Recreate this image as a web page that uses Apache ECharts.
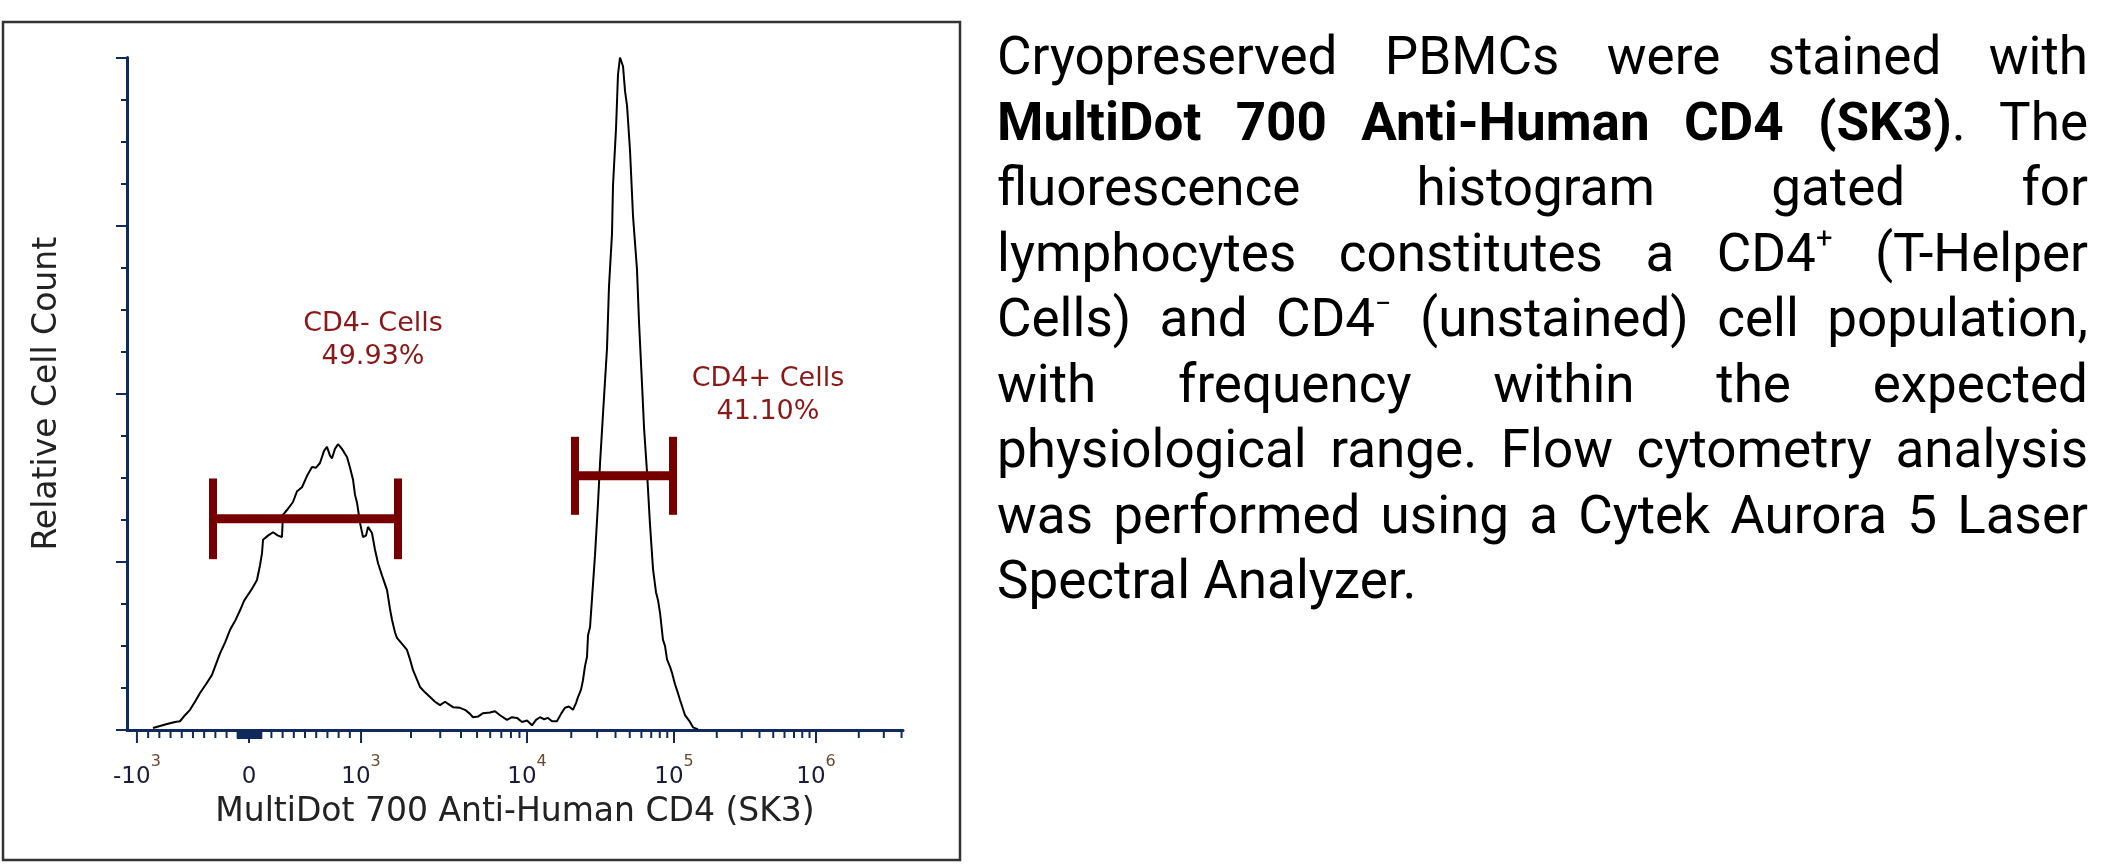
<!DOCTYPE html>
<html>
<head>
<meta charset="utf-8">
<title>CD4 histogram</title>
<script src="https://cdn.jsdelivr.net/npm/echarts@6/dist/echarts.min.js"></script>
<style>
  html, body { margin: 0; padding: 0; background: #fff; }
  #chart { position: absolute; left: 0; top: 0; width: 2116px; height: 867px; }
  #caption {
    position: absolute; left: 997px; top: 24px; width: 1091px;
    font-family: Roboto, "Noto Sans", sans-serif; font-size: 53px;
    line-height: 65.5px; color: #000;
  }
  #caption div { text-align: justify; text-align-last: justify; }
  #caption div.last { text-align-last: left; }
  #caption sup { font-size: 0.55em; vertical-align: 0.8em; line-height: 0; }
</style>
</head>
<body>
<div id="chart"></div>
<div id="caption">
  <div>Cryopreserved PBMCs were stained with</div>
  <div><b>MultiDot 700 Anti-Human CD4 (SK3)</b>. The</div>
  <div>fluorescence histogram gated for</div>
  <div>lymphocytes constitutes a CD4<sup>+</sup> (T-Helper</div>
  <div>Cells) and CD4<sup>&minus;</sup> (unstained) cell population,</div>
  <div>with frequency within the expected</div>
  <div>physiological range. Flow cytometry analysis</div>
  <div>was performed using a Cytek Aurora 5 Laser</div>
  <div class="last">Spectral Analyzer.</div>
</div>
<script>
// histogram trace: x in display channels (0..1000 across the axis), y in % of peak
const histX = [33.5, 42.5, 51.5, 61.9, 68.3, 74.7, 81.2, 87.6, 94.1, 101.8, 109.5, 114.7, 119.9, 126.3,
  132.8, 139.2, 145.7, 150.8, 155.9, 161.1, 167.5, 171.4, 174.0, 175.3, 181.7, 188.2, 194.6, 199.7,
  201.0, 207.5, 213.9, 219.1, 225.5, 232.0, 238.4, 243.6, 248.7, 253.9, 257.7, 261.6, 264.2, 268.0,
  271.9, 277.0, 283.5, 287.4, 291.3, 293.8, 296.4, 300.3, 304.1, 308.0, 310.6, 315.7, 319.6, 323.5,
  328.6, 335.1, 338.9, 341.5, 345.4, 347.9, 354.4, 360.8, 364.7, 368.6, 373.7, 377.6, 384.0, 390.5,
  396.9, 403.4, 409.8, 416.2, 420.1, 429.1, 435.6, 442.0, 445.9, 452.3, 458.8, 467.8, 474.2, 480.7,
  489.7, 496.1, 502.6, 509.0, 515.5, 521.9, 527.1, 532.2, 537.4, 542.5, 547.7, 554.1, 559.3, 564.4,
  569.6, 574.7, 578.6, 581.2, 585.1, 587.6, 590.2, 592.8, 594.1, 596.7, 599.2, 603.1, 607.0, 609.6,
  613.4, 618.6, 621.1, 625.0, 626.3, 630.2, 632.7, 635.3, 636.6, 639.2, 641.8, 644.4, 648.2, 652.1,
  657.2, 659.8, 663.7, 666.3, 670.1, 674.0, 677.9, 681.7, 684.3, 686.9, 690.7, 693.3, 695.9, 699.8,
  702.3, 706.2, 708.8, 712.6, 719.1, 725.5, 729.4, 735.9];
const histY = [0.3, 0.6, 0.9, 1.2, 1.3, 2.2, 3.0, 4.2, 5.5, 6.8, 8.2, 9.8, 11.4, 13.0,
  14.9, 16.2, 17.8, 19.2, 20.1, 21.0, 22.3, 24.5, 26.3, 28.3, 28.9, 29.4, 28.9, 28.7,
  32.0, 32.9, 33.9, 35.5, 36.1, 37.8, 39.1, 39.0, 39.7, 41.5, 42.1, 40.8, 40.4, 41.8,
  42.5, 41.8, 40.6, 39.0, 37.2, 35.0, 33.8, 30.8, 28.7, 28.9, 30.2, 29.3, 26.8, 24.8,
  23.0, 20.8, 18.0, 16.4, 14.5, 13.7, 12.8, 11.9, 10.5, 8.9, 7.5, 6.4, 5.6, 4.9,
  4.2, 3.7, 4.2, 3.7, 3.4, 3.3, 3.0, 2.4, 1.9, 2.0, 2.5, 2.6, 2.8, 2.2,
  1.5, 1.9, 1.8, 1.2, 1.4, 0.7, 1.5, 1.9, 1.6, 1.8, 1.3, 1.3, 2.4, 3.3,
  3.5, 3.0, 4.0, 4.9, 6.0, 7.4, 9.5, 10.9, 14.1, 15.3, 19.5, 26.0, 33.8, 39.7,
  47.0, 56.8, 65.9, 73.8, 81.0, 89.5, 97.4, 100, 100, 98.7, 95.0, 92.8, 86.2, 76.4,
  68.5, 60.7, 51.4, 44.9, 38.4, 30.5, 23.9, 20.5, 19.3, 17.4, 13.4, 12.5, 10.5, 9.4,
  8.5, 6.8, 5.9, 4.5, 2.2, 1.2, 0.4, 0.1];

// gates (channels, % of peak)
const gateLeft = [110.8, 577.3];
const gateRight = [349.2, 703.6];
const gateLevel = [31.4, 37.8];
const gateHalf = [6.0, 5.8];
const gateNames = ['CD4- Cells', 'CD4+ Cells'];
const gatePercents = ['49.93%', '41.10%'];
const gateLabelX = [317, 826];
const gateLabelY = [57.9, 49.7];

// axis tick labels (raw fluorescence)
const tickRaw = [-1000, 0, 1000, 1e4, 1e5, 1e6];
const tickBase = ['-10', '0', '10', '10', '10', '10'];
const tickExp = ['3', '', '3', '4', '5', '6'];

// biexponential display scale: linear around zero, log per decade above 10^3
const linZero = 157.2;
const linPer1000 = 144.4;
const decadeExp = [3, 4, 5, 6, 7];
const decadeChan = [301.6, 515.5, 704.9, 887.9, 1071];

const NAVY = '#102a5c';
const GATE = '#760000';

function toChan(v) {
  if (Math.abs(v) <= 1000) return linZero + v * linPer1000 / 1000;
  const lg = Math.log10(v);
  for (let i = 0; i < decadeExp.length - 1; i++) {
    if (lg <= decadeExp[i + 1]) {
      const f = lg - decadeExp[i];
      return decadeChan[i] + f * (decadeChan[i + 1] - decadeChan[i]);
    }
  }
  return decadeChan[decadeChan.length - 1];
}

// tick marks: [channel, length]
const ticks = [];
tickRaw.forEach(v => ticks.push([toChan(v), 13]));
for (let v = -900; v <= 900; v += 100) if (v !== 0) ticks.push([toChan(v), 8]);
for (let v = -100; v <= 110; v += 10) ticks.push([toChan(v), 9]);
[3, 4, 5, 6].forEach(e => {
  for (let k = 2; k <= 9; k++) {
    const c = toChan(k * Math.pow(10, e));
    if (c <= 1000) ticks.push([c, 8]);
  }
});

const chart = echarts.init(document.getElementById('chart'));

const option = {
  animation: false,
  backgroundColor: '#fff',
  grid: { left: 127, right: 1213, top: 57.5, bottom: 137, outerBoundsMode: 'none' },
  xAxis: {
    type: 'value', min: 0, max: 1000,
    name: 'MultiDot 700 Anti-Human CD4 (SK3)',
    nameLocation: 'middle', nameGap: 66,
    nameTextStyle: { fontFamily: 'DejaVu Sans', fontSize: 33, color: '#222' },
    axisLine: { show: true, onZero: false, lineStyle: { color: NAVY, width: 3 } },
    axisTick: { show: false },
    axisLabel: { show: false },
    splitLine: { show: false }
  },
  yAxis: {
    type: 'value', min: 0, max: 100, interval: 25,
    name: 'Relative Cell Count',
    nameLocation: 'middle', nameGap: 63,
    nameTextStyle: { fontFamily: 'DejaVu Sans', fontSize: 33, color: '#222' },
    axisLine: { show: true, lineStyle: { color: NAVY, width: 3 } },
    axisTick: { show: true, length: 11, lineStyle: { color: NAVY, width: 2 } },
    minorTick: { show: true, splitNumber: 4, length: 6, lineStyle: { color: NAVY, width: 2 } },
    axisLabel: { show: false },
    splitLine: { show: false },
    minorSplitLine: { show: false }
  },
  graphic: [{
    type: 'rect',
    shape: { x: 3, y: 22, width: 957, height: 838 },
    style: { fill: 'none', stroke: '#333', lineWidth: 2.5 }
  }],
  series: [
    {
      type: 'line',
      data: histX.map((x, i) => [x, histY[i]]),
      showSymbol: false,
      lineStyle: { color: '#000', width: 2 },
      z: 3
    },
    {
      // x axis ticks
      type: 'custom',
      clip: false,
      data: ticks,
      renderItem: (params, api) => {
        const p = api.coord([api.value(0), 0]);
        return {
          type: 'line',
          shape: { x1: p[0], y1: p[1], x2: p[0], y2: p[1] + api.value(1) },
          style: { stroke: NAVY, lineWidth: 2 }
        };
      },
      z: 2
    },
    {
      // x axis tick labels with exponents
      type: 'custom',
      clip: false,
      data: tickRaw.map(v => [toChan(v), 0]),
      renderItem: (params, api) => {
        const i = params.dataIndex;
        const p = api.coord([api.value(0), 0]);
        const txt = tickExp[i] ? '{b|' + tickBase[i] + '}{e|' + tickExp[i] + '}' : '{b|' + tickBase[i] + '}';
        return {
          type: 'text',
          x: p[0], y: p[1] + 41.5,
          style: {
            text: txt,
            align: 'center', verticalAlign: 'middle',
            rich: {
              b: { fontFamily: 'DejaVu Sans', fontSize: 23, lineHeight: 35, verticalAlign: 'bottom', fill: '#1a1a3a' },
              e: { fontFamily: 'DejaVu Sans', fontSize: 16, lineHeight: 16, verticalAlign: 'top', fill: '#6a4a30' }
            }
          }
        };
      }
    },
    {
      // gate markers
      type: 'custom',
      clip: false,
      data: gateLeft.map((l, i) => [l, gateLevel[i]]),
      renderItem: (params, api) => {
        const i = params.dataIndex;
        const a = api.coord([gateLeft[i], gateLevel[i]]);
        const b = api.coord([gateRight[i], gateLevel[i]]);
        const top = api.coord([gateLeft[i], gateLevel[i] + gateHalf[i]])[1];
        const bot = api.coord([gateLeft[i], gateLevel[i] - gateHalf[i]])[1];
        const style = { fill: GATE };
        return {
          type: 'group',
          children: [
            { type: 'rect', shape: { x: a[0], y: a[1] - 4.5, width: b[0] - a[0], height: 9 }, style },
            { type: 'rect', shape: { x: a[0] - 4, y: top, width: 8, height: bot - top }, style },
            { type: 'rect', shape: { x: b[0] - 4, y: top, width: 8, height: bot - top }, style }
          ]
        };
      },
      z: 4
    },
    {
      // gate labels
      type: 'custom',
      clip: false,
      data: gateLabelX.map((x, i) => [x, gateLabelY[i]]),
      renderItem: (params, api) => {
        const i = params.dataIndex;
        const p = api.coord([api.value(0), api.value(1)]);
        return {
          type: 'text',
          x: p[0], y: p[1],
          style: {
            text: gateNames[i] + '\n' + gatePercents[i],
            align: 'center', verticalAlign: 'middle',
            fontFamily: 'DejaVu Sans', fontSize: 27, lineHeight: 33,
            fill: '#8a1818'
          }
        };
      },
      z: 5
    }
  ]
};

chart.setOption(option);
</script>
</body>
</html>
